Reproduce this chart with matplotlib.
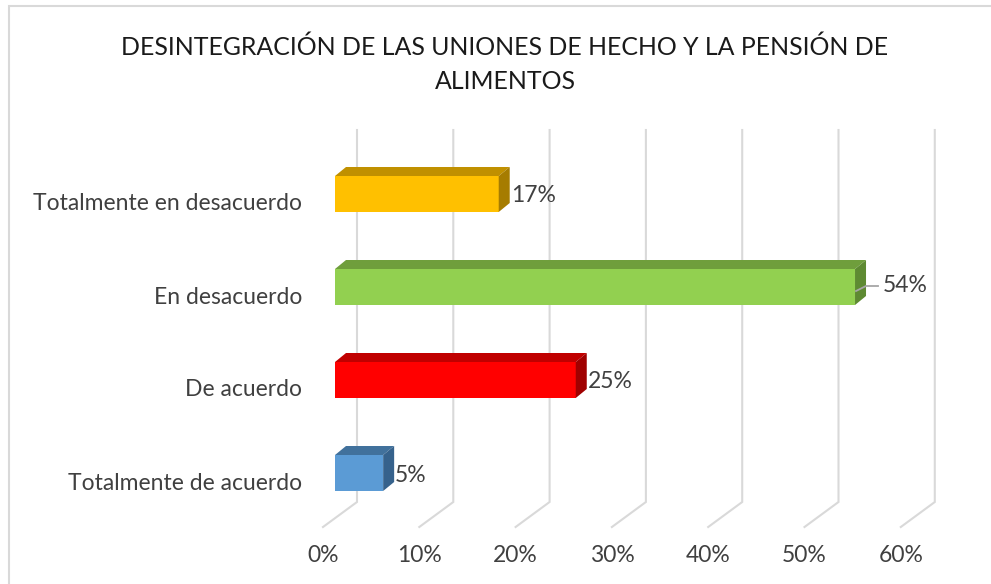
import matplotlib
matplotlib.use("Agg")
import matplotlib.pyplot as plt
from matplotlib.patches import Polygon, Rectangle

# ---- data ----
categories = ["Totalmente de acuerdo", "De acuerdo", "En desacuerdo", "Totalmente en desacuerdo"]
values = [5, 25, 54, 17]
tick_values = [0, 10, 20, 30, 40, 50, 60]
tick_labels = ["0%", "10%", "20%", "30%", "40%", "50%", "60%"]
title = "DESINTEGRACIÓN DE LAS UNIONES DE HECHO Y LA PENSIÓN DE\nALIMENTOS"

front_colors = ["#5B9BD5", "#FF0000", "#92D050", "#FFC000"]
top_colors = ["#41719C", "#C00000", "#6F9E3C", "#C09000"]
side_colors = ["#36628C", "#A00000", "#5E8A32", "#A67C00"]

# ---- geometry (pixel-based style constants) ----
W, H = 991, 584
SX = 9.63          # px per percent
SY = 93.0          # px per category
X0 = 335           # px of 0% on bar front plane
Y0 = 473           # px of first category centre
FONT = ["Lato", "DejaVu Sans"]
FS = 16.5

def px_x(p):
    return p / SX

def px_y(p):
    return -p / SY

fig = plt.figure(figsize=(W / 100, H / 100), dpi=100)
fig.patch.set_facecolor("white")
ax = fig.add_axes([0, 0, 1, 1])
ax.set_xlim(-X0 / SX, (W - X0) / SX)
ax.set_ylim((Y0 - H) / SY, Y0 / SY)
ax.axis("off")

# chart border
fig.add_artist(Rectangle((9 / W, -0.01), 1.0, 1 - 6 / H + 0.01, transform=fig.transFigure,
                         fill=False, edgecolor="#D9D9D9", linewidth=1.5))

# gridlines (3D floor + back wall)
back_dx = px_x(22)
front_dx = px_x(-12)
top_y = (Y0 - 130) / SY
wall_y = (Y0 - 502) / SY
floor_y = (Y0 - 527) / SY
for t, lab in zip(tick_values, tick_labels):
    ax.plot([t + back_dx, t + back_dx, t + front_dx], [top_y, wall_y, floor_y],
            color="#D9D9D9", lw=1.5, zorder=1, solid_joinstyle="miter")
    ax.text(t + front_dx, (Y0 - 555) / SY, lab, ha="center", va="center",
            fontsize=FS, color="#404040", family=FONT)

# bars
bh = 36 / SY
ddx = px_x(11)
ddy = 9 / SY
for i, (cat, v) in enumerate(zip(categories, values)):
    yc = i
    yb, yt = yc - bh / 2, yc + bh / 2
    # front
    ax.add_patch(Polygon([(0, yb), (v, yb), (v, yt), (0, yt)], closed=True,
                         facecolor=front_colors[i], edgecolor="none", zorder=3))
    # top
    ax.add_patch(Polygon([(0, yt), (v, yt), (v + ddx, yt + ddy), (ddx, yt + ddy)], closed=True,
                         facecolor=top_colors[i], edgecolor="none", zorder=3))
    # side
    ax.add_patch(Polygon([(v, yb), (v + ddx, yb + ddy), (v + ddx, yt + ddy), (v, yt)], closed=True,
                         facecolor=side_colors[i], edgecolor="none", zorder=3))
    # category label
    ax.text(px_x(-33), yc + px_y(10), cat, ha="right", va="center",
            fontsize=FS, color="#404040", family=FONT)
    # data label
    if v == max(values):
        lx = v + px_x(28)
        ax.plot([v + px_x(1), v + px_x(11), lx - px_x(5)], [yc + px_y(4), yc + px_y(-1), yc + px_y(-1)],
                color="#A6A6A6", lw=1.3, zorder=4)
        ax.text(lx, yc + px_y(-1), f"{v}%", ha="left", va="center",
                fontsize=FS, color="#404040", family=FONT)
    else:
        ax.text(v + ddx + px_x(1), yc + px_y(2), f"{v}%", ha="left", va="center",
                fontsize=FS, color="#404040", family=FONT)

# title
fig.text(505 / W, 1 - 64 / H, title, ha="center", va="center", fontsize=17.9,
         color="#1A1A1A", family=FONT, linespacing=1.6)

fig.savefig("out.png", dpi=100, facecolor="white")
